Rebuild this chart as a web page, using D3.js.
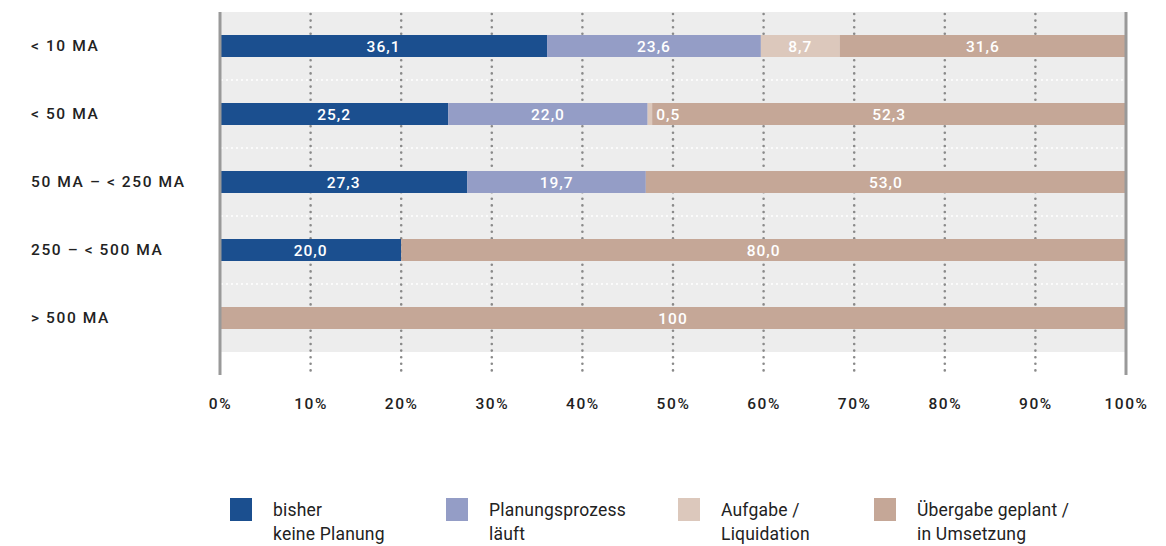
<!DOCTYPE html>
<html>
<head>
<meta charset="utf-8">
<script src="https://cdn.jsdelivr.net/npm/d3@7"></script>
<style>
  body { margin: 0; background: #fff; }
  svg text { font-family: Roboto, "Noto Sans", sans-serif; }
</style>
</head>
<body>
<div id="chart"></div>
<script>
// Data
var categories = ["< 10 MA", "< 50 MA", "50 MA \u2013 < 250 MA", "250 \u2013 < 500 MA", "> 500 MA"];
var seriesNames = ["bisher|keine Planung", "Planungsprozess|läuft", "Aufgabe /|Liquidation", "Übergabe geplant /|in Umsetzung"];
var keineplanung = [36.1, 25.2, 27.3, 20.0, 0];
var planung = [23.6, 22.0, 19.7, 0, 0];
var aufgabe = [8.7, 0.5, 0, 0, 0];
var uebergabe = [31.6, 52.3, 53.0, 80.0, 100];
var tickValues = [0, 10, 20, 30, 40, 50, 60, 70, 80, 90, 100];

var colors = ["#1b4f8f", "#949dc6", "#dcc8bc", "#c5a797"];

var attrs = {
  svgWidth: 1166,
  svgHeight: 546,
  plotLeft: 220,
  plotRight: 1126,
  plotTop: 12,
  plotBottom: 352,
  axisBottom: 375,
  barHeight: 22
};

var rows = categories.map(function (c, i) {
  return { cat: c, values: [keineplanung[i], planung[i], aufgabe[i], uebergabe[i]] };
});

var stack = d3.stack().keys([0, 1, 2, 3]).value(function (d, k) { return d.values[k]; });
var series = stack(rows);

var x = d3.scaleLinear().domain([0, 100]).range([attrs.plotLeft, attrs.plotRight]);
var y = d3.scaleBand().domain(categories).range([attrs.plotTop, attrs.plotBottom]);

var svg = d3.select("#chart").append("svg")
  .attr("width", attrs.svgWidth)
  .attr("height", attrs.svgHeight);

// background
svg.append("rect")
  .attr("x", attrs.plotLeft).attr("y", attrs.plotTop)
  .attr("width", attrs.plotRight - attrs.plotLeft)
  .attr("height", attrs.plotBottom - attrs.plotTop)
  .attr("fill", "#ededed");

// white dotted row separators
svg.selectAll(".sep").data(categories.slice(1))
  .enter().append("line")
  .attr("x1", attrs.plotLeft + 2).attr("x2", attrs.plotRight - 2)
  .attr("y1", function (d) { return y(d); })
  .attr("y2", function (d) { return y(d); })
  .attr("stroke", "#fff").attr("stroke-width", 2)
  .attr("stroke-dasharray", "0 5").attr("stroke-linecap", "round");

// vertical dotted grid
svg.selectAll(".grid").data(tickValues.slice(1, -1))
  .enter().append("line")
  .attr("x1", function (d) { return x(d); })
  .attr("x2", function (d) { return x(d); })
  .attr("y1", attrs.plotTop + 2).attr("y2", attrs.axisBottom)
  .attr("stroke", "#8a8a8a").attr("stroke-width", 2.6)
  .attr("stroke-dasharray", "0 6.6").attr("stroke-linecap", "round");

// bars
var groups = svg.selectAll(".series").data(series)
  .enter().append("g")
  .attr("fill", function (d, i) { return colors[i]; });

groups.selectAll("rect").data(function (d) { return d; })
  .enter().append("rect")
  .attr("x", function (d) { return x(d[0]); })
  .attr("width", function (d) { return x(d[1]) - x(d[0]); })
  .attr("y", function (d) { return y(d.data.cat) + y.bandwidth() / 2 - attrs.barHeight / 2; })
  .attr("height", attrs.barHeight);

// bar labels
function fmt(v) { return v === 100 ? "100" : v.toFixed(1).replace(".", ","); }
series.forEach(function (s) {
  s.forEach(function (d) {
    var v = d[1] - d[0];
    if (v <= 0.0001) return;
    var w = x(d[1]) - x(d[0]);
    var small = w < 30;
    svg.append("text")
      .attr("x", small ? x(d[1]) + 4 : (x(d[0]) + x(d[1])) / 2)
      .attr("y", y(d.data.cat) + y.bandwidth() / 2)
      .attr("dy", "0.36em")
      .attr("text-anchor", small ? "start" : "middle")
      .attr("fill", "#fff")
      .attr("font-size", 15.5)
      .attr("font-weight", 500)
      .attr("letter-spacing", 1)
      .text(fmt(d.data.values[s.key]));
  });
});

// axis lines (left and right)
svg.selectAll(".axisLine").data([0, 100])
  .enter().append("line")
  .attr("x1", function (d) { return x(d); })
  .attr("x2", function (d) { return x(d); })
  .attr("y1", attrs.plotTop).attr("y2", attrs.axisBottom)
  .attr("stroke", "#999").attr("stroke-width", 3);

// x tick labels
var xAxis = svg.append("g")
  .attr("transform", "translate(0," + 395 + ")")
  .call(d3.axisBottom(x).tickValues(tickValues).tickFormat(function (d) { return d + "%"; }).tickSize(0));
xAxis.select(".domain").remove();
xAxis.selectAll("text")
  .attr("font-size", 15.5).attr("font-weight", 500).attr("fill", "#222")
  .attr("letter-spacing", 1.6)
  .style("font-family", "Roboto, sans-serif");

// category labels
svg.selectAll(".cat").data(categories)
  .enter().append("text")
  .attr("x", 31)
  .attr("y", function (d) { return y(d) + y.bandwidth() / 2; })
  .attr("dy", "0.35em")
  .attr("font-size", 15.5).attr("font-weight", 500).attr("fill", "#222")
  .attr("letter-spacing", 1.6)
  .text(function (d) { return d; });

// legend
var legendX = [230, 446, 678, 874];
var legend = svg.selectAll(".legend").data(seriesNames)
  .enter().append("g")
  .attr("transform", function (d, i) { return "translate(" + legendX[i] + ",498)"; });
legend.append("rect")
  .attr("width", 22).attr("height", 23)
  .attr("fill", function (d, i) { return colors[i]; });
legend.each(function (d) {
  var t = d3.select(this).append("text")
    .attr("x", 43).attr("y", 18)
    .attr("font-size", 17.5).attr("fill", "#222").attr("font-weight", 400)
    .attr("letter-spacing", 0.2)
    .style("font-family", "Roboto, sans-serif");
  d.split("|").forEach(function (line, j) {
    t.append("tspan").attr("x", 43).attr("dy", j === 0 ? 0 : 24).text(line);
  });
});
</script>
</body>
</html>
